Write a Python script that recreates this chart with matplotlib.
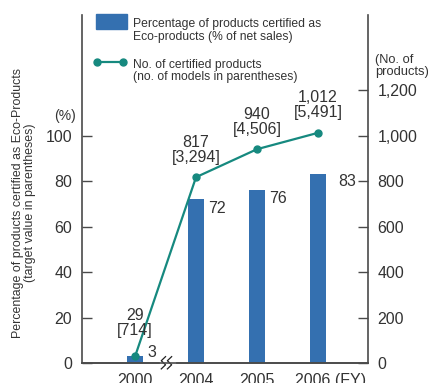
import matplotlib
matplotlib.use("Agg")
import matplotlib.pyplot as plt
import matplotlib.transforms as mtransforms
import numpy as np

plt.rcParams["font.family"] = ["Liberation Sans Narrow", "Liberation Sans", "DejaVu Sans"]

# ── data ──
years = ["2000", "2004", "2005", "2006 (FY)"]
pct_certified = [3, 72, 76, 83]            # % of net sales
n_products = [29, 817, 940, 1012]           # no. of certified products
n_models = [714, 3294, 4506, 5491]          # no. of models

BAR_COLOR = "#3470b0"
LINE_COLOR = "#16897f"
AXIS_COLOR = "#4a4a4a"
TEXT_COLOR = "#333333"

fig = plt.figure(figsize=(4.28, 3.83), dpi=100)
ax = fig.add_axes([82 / 428, 20 / 383, 286 / 428, 348 / 383])
ax2 = ax.twinx()

x = np.arange(len(years))
ax.bar(x, pct_certified, width=0.26, color=BAR_COLOR, zorder=2)
ax2.plot(x, n_products, color=LINE_COLOR, lw=1.6, marker="o", ms=5, zorder=3)

ax.set_xlim(-0.87, 3.82)
ax.set_ylim(0, 153)
ax2.set_ylim(0, 1530)

ax.set_yticks(range(0, 101, 20))
ax2.set_yticks(range(0, 1201, 200))
ax2.set_yticklabels([f"{v:,}" for v in range(0, 1201, 200)])
ax.set_xticks(x)
ax.set_xticklabels(years)

for a in (ax, ax2):
    a.spines["top"].set_visible(False)
    for s in ("left", "right", "bottom"):
        a.spines[s].set_color(AXIS_COLOR)
        a.spines[s].set_linewidth(1.2)
    a.tick_params(axis="y", direction="in", length=7, width=1, color=AXIS_COLOR,
                  labelsize=11.5, labelcolor=TEXT_COLOR, pad=7)
ax.tick_params(axis="x", length=0, labelsize=11.5, labelcolor=TEXT_COLOR, pad=7)
ax2.spines["left"].set_visible(False)
ax.spines["right"].set_visible(False)

# keep "2006" centred under its bar, "(FY)" trailing to the right
last = ax.get_xticklabels()[-1]
last.set_transform(last.get_transform()
                   + mtransforms.ScaledTranslation(0.13, 0, fig.dpi_scale_trans))

# bar value labels (offsets in axis units)
bar_lbl_dx = [0.2, 0.2, 0.2, 0.33]
bar_lbl_dy = [1.4, -3.9, -3.5, -3.4]
for xi, v, dx, dy in zip(x, pct_certified, bar_lbl_dx, bar_lbl_dy):
    ax.text(xi + dx, v + dy, f"{v}", ha="left", va="center", fontsize=11.5,
            color=TEXT_COLOR)

# line value labels
line_lbl_dy = [81, 55, 55, 55]
for xi, n, m, dy in zip(x, n_products, n_models, line_lbl_dy):
    ax2.text(xi, n + dy, f"{n:,}\n[{m:,}]", ha="center", va="bottom",
             fontsize=11.5, color=TEXT_COLOR, linespacing=1.0)

# axis-break mark between 2000 and 2004
bx = 0.43
zz_x = np.array([0.07, 0.0, 0.07, 0.0])
zz_y = np.array([2.8, 1.0, -0.8, -2.6])
ax.fill_between([bx - 0.02, bx + 0.22], -3, 3, color="white", zorder=4, clip_on=False)
for off in (0.0, 0.1):
    ax.plot(bx + off + zz_x, zz_y, color="#222222", lw=0.9, zorder=5, clip_on=False)

# unit labels
ax.text(-1.15, 108.6, "(%)", ha="center", va="center", fontsize=10, color=TEXT_COLOR,
        clip_on=False)
ax2.text(3.94, 1253, "(No. of\nproducts)", ha="left", va="bottom", fontsize=9.3,
         color=TEXT_COLOR, linespacing=1.0, clip_on=False)

fig.text(24 / 428, (383 - 203) / 383,
         "Percentage of products certified as Eco-Products\n(target value in parentheses)",
         rotation=90, ha="center", va="center", fontsize=8.9, color=TEXT_COLOR,
         linespacing=1.0)

# legend
ax.add_patch(plt.Rectangle((-0.64, 146.8), 0.51, 6.6, color=BAR_COLOR, clip_on=False))
ax.text(-0.04, 146.2, "Percentage of products certified as\nEco-products (% of net sales)",
        ha="left", va="center", fontsize=8.7, color=TEXT_COLOR, linespacing=1.05)
ax.plot([-0.62, -0.19], [132.3, 132.3], color=LINE_COLOR, lw=1.6, marker="o", ms=5,
        clip_on=False)
ax.text(-0.04, 128.4, "No. of certified products\n(no. of models in parentheses)",
        ha="left", va="center", fontsize=8.7, color=TEXT_COLOR, linespacing=1.05)

fig.savefig("out.png", dpi=100)
